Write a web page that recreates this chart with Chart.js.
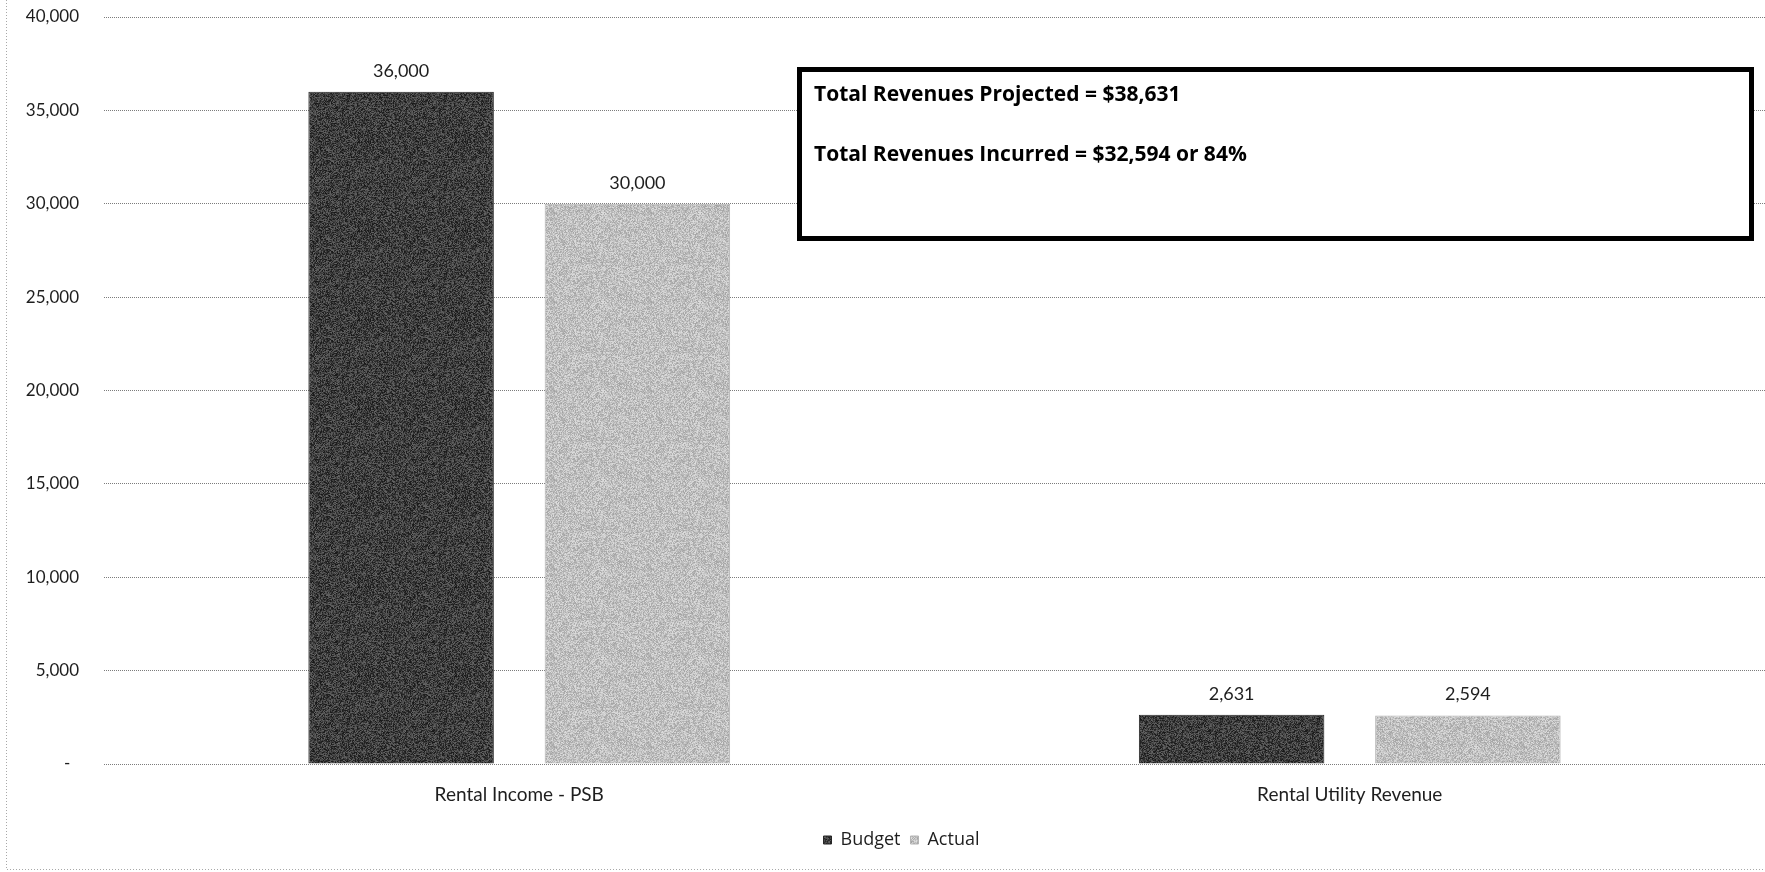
<!DOCTYPE html>
<html>
<head>
<meta charset="utf-8">
<script src="https://cdn.jsdelivr.net/npm/chart.js@4.4.1/dist/chart.umd.min.js"></script>
<style>
  html, body { margin: 0; padding: 0; background: #ffffff; }
  #wrap { width: 1765px; height: 872px; position: relative; }
</style>
</head>
<body>
<div id="wrap"><canvas id="chart" width="1765" height="872"></canvas></div>
<script>
// Revenue categories and the two series shown for each
const categories = ['Rental Income - PSB', 'Rental Utility Revenue'];
const seriesNames = ['Budget', 'Actual'];
const budgetValues = [36000, 2631];
const actualValues = [30000, 2594];
const yTickValues = [0, 5000, 10000, 15000, 20000, 25000, 30000, 35000, 40000];

const fmt = v => v.toLocaleString('en-US');
const sum = arr => arr.reduce((a, b) => a + b, 0);

// Summary figures shown in the boxed note
const totalProjected = sum(budgetValues);
const totalIncurred = sum(actualValues);
const incurredPct = Math.round(100 * totalIncurred / totalProjected);

// Speckled fill, like a textured bar fill (deterministic hash noise)
function speckle(base, amp, seed) {
  const w = 97, h = 89;
  const c = document.createElement('canvas');
  c.width = w; c.height = h;
  const g = c.getContext('2d');
  const img = g.createImageData(w, h);
  for (let i = 0; i < w * h; i++) {
    const s = Math.sin((i + seed) * 12.9898 + seed * 78.233) * 43758.5453;
    const n = s - Math.floor(s);
    const v = Math.max(0, Math.min(255, Math.round(base + (n - 0.5) * 2 * amp)));
    img.data[i * 4] = v; img.data[i * 4 + 1] = v; img.data[i * 4 + 2] = v; img.data[i * 4 + 3] = 255;
  }
  g.putImageData(img, 0, 0);
  return g.createPattern(c, 'repeat');
}
const budgetFill = speckle(62, 40, 3);
const actualFill = speckle(192, 30, 11);

const FONT = 'Lato, "Open Sans", "Liberation Sans", sans-serif';
const WIDE_FONT = '"Open Sans", Lato, "Liberation Sans", sans-serif';
Chart.defaults.font.family = FONT;
Chart.defaults.color = '#1e1e1e';

// Value labels above each bar
const valueLabels = {
  id: 'valueLabels',
  afterDatasetsDraw(chart) {
    const ctx = chart.ctx;
    ctx.save();
    ctx.font = '18px ' + FONT;
    ctx.fillStyle = '#1e1e1e';
    ctx.textAlign = 'center';
    ctx.textBaseline = 'middle';
    chart.data.datasets.forEach((ds, di) => {
      chart.getDatasetMeta(di).data.forEach((bar, i) => {
        ctx.fillText(fmt(ds.data[i]), bar.x, bar.y - 21);
      });
    });
    ctx.restore();
  }
};

// Boxed note with the revenue totals
const totalsNote = {
  id: 'totalsNote',
  afterDraw(chart) {
    const ctx = chart.ctx;
    ctx.save();
    ctx.fillStyle = '#ffffff';
    ctx.fillRect(797, 67, 957, 174);
    ctx.lineWidth = 5;
    ctx.strokeStyle = '#000000';
    ctx.strokeRect(799.5, 69.5, 952, 169);
    ctx.fillStyle = '#000000';
    ctx.font = 'bold 21px ' + WIDE_FONT;
    ctx.textAlign = 'left';
    ctx.textBaseline = 'alphabetic';
    ctx.fillText('Total Revenues Projected = $' + fmt(totalProjected), 814, 101);
    ctx.fillText('Total Revenues Incurred = $' + fmt(totalIncurred) + ' or ' + incurredPct + '%', 814, 161);
    ctx.restore();
  }
};

// Dotted frame along the left and bottom edges
const frame = {
  id: 'frame',
  beforeDraw(chart) {
    const ctx = chart.ctx;
    ctx.save();
    ctx.strokeStyle = '#a8a8a8';
    ctx.lineWidth = 1;
    ctx.setLineDash([1, 2]);
    ctx.beginPath();
    ctx.moveTo(6.5, 0);
    ctx.lineTo(6.5, 869.5);
    ctx.lineTo(1765, 869.5);
    ctx.stroke();
    ctx.restore();
  }
};

// Center the legend row under the span right of the label column
const legendShift = {
  id: 'legendShift',
  afterLayout(chart) {
    if (chart.legend) chart.legend.left += 33;
  }
};

// Plot area runs slightly past the right edge of the canvas
const RIGHT_OVERHANG = -5;

new Chart(document.getElementById('chart'), {
  type: 'bar',
  data: {
    labels: categories,
    datasets: [
      {
        label: seriesNames[0],
        data: budgetValues,
        backgroundColor: budgetFill,
        borderColor: '#262626',
        borderWidth: 1
      },
      {
        label: seriesNames[1],
        data: actualValues,
        backgroundColor: actualFill,
        borderColor: '#b4b4b4',
        borderWidth: 1
      }
    ]
  },
  options: {
    responsive: false,
    animation: false,
    devicePixelRatio: 1,
    categoryPercentage: 0.569,
    barPercentage: 0.785,
    layout: { padding: { left: 0, right: RIGHT_OVERHANG, top: 17, bottom: 13 } },
    plugins: {
      legend: {
        position: 'bottom',
        labels: {
          boxWidth: 8,
          boxHeight: 8,
          padding: 10,
          font: { size: 18, family: WIDE_FONT },
          color: '#1e1e1e'
        }
      },
      tooltip: { enabled: false }
    },
    scales: {
      x: {
        grid: { display: false, drawTicks: false },
        border: { display: false },
        ticks: { padding: 19, font: { size: 19 }, color: '#1e1e1e' },
        afterFit(scale) {
          scale.height = 57;
          scale.paddingRight = RIGHT_OVERHANG;
        }
      },
      y: {
        min: 0,
        max: 40000,
        afterBuildTicks(scale) { scale.ticks = yTickValues.map(v => ({ value: v })); },
        grid: {
          color: '#7c7c7c',
          lineWidth: 1,
          drawTicks: false
        },
        // dotted grid lines; the axis line itself stays hidden
        border: { display: false, dash: [1, 1] },
        ticks: {
          padding: 25,
          font: { size: 17 },
          color: '#1e1e1e',
          callback: v => (v === 0 ? '-  ' : fmt(v))
        },
        afterFit(scale) {
          scale.width = 104;
          scale.paddingTop = 0;
          scale.paddingBottom = 0;
          scale.paddingRight = RIGHT_OVERHANG;
        }
      }
    }
  },
  plugins: [frame, legendShift, valueLabels, totalsNote]
});
</script>
</body>
</html>
